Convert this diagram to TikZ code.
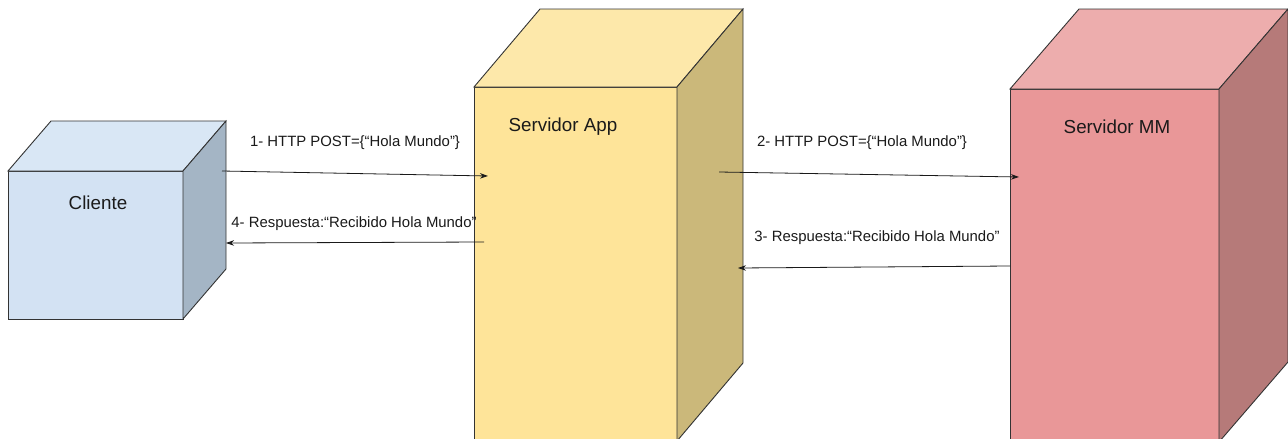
\documentclass[tikz,border=0pt]{standalone}
\usepackage{fontspec}
\setmainfont{Liberation Sans}
\usetikzlibrary{arrows.meta,calc}

\definecolor{cliFront}{RGB}{211,226,243}
\definecolor{cliTop}{RGB}{217,231,245}
\definecolor{cliSide}{RGB}{164,181,197}
\definecolor{appFront}{RGB}{254,228,153}
\definecolor{appTop}{RGB}{253,232,170}
\definecolor{appSide}{RGB}{203,184,122}
\definecolor{mmFront}{RGB}{233,151,152}
\definecolor{mmTop}{RGB}{237,173,173}
\definecolor{mmSide}{RGB}{182,122,121}
\definecolor{edge}{RGB}{51,51,51}
\definecolor{ink}{RGB}{26,26,26}

\tikzset{
  face/.style={draw=edge, line width=0.9pt, line join=miter},
  frontface/.style={face, rectangle, inner sep=0pt, outer sep=0pt, anchor=north west},
  boxtitle/.style={text=ink, font=\fontsize{18.8}{22}\selectfont, inner sep=0pt},
  msglabel/.style={text=ink, font=\fontsize{14.9}{17}\selectfont, inner sep=0pt},
  msg/.style={draw=ink, line width=0.8pt, -{Stealth[length=8pt,width=5.5pt]}},
}

\begin{document}
\begin{tikzpicture}[x=1pt,y=-1pt]
  \useasboundingbox (0,0) rectangle (1288,439);

  % Cliente cube
  \node[frontface, fill=cliFront, minimum width=175pt, minimum height=148pt] (cli) at (8,171) {};
  \draw[face, fill=cliTop] (cli.north west) -- ++(43,-50) -- ++(175,0) -- (cli.north east) -- cycle;
  \draw[face, fill=cliSide] (cli.north east) -- ++(43,-50) -- ++(0,148) -- (cli.south east) -- cycle;
  \node[boxtitle] (cliT) at (98,203) {Cliente};

  % Servidor App cube
  \node[frontface, fill=appFront, minimum width=203pt, minimum height=354pt] (app) at (474,87) {};
  \draw[face, fill=appTop] (app.north west) -- ++(66,-78) -- ++(203,0) -- (app.north east) -- cycle;
  \draw[face, fill=appSide] (app.north east) -- ++(66,-78) -- ++(0,354) -- (app.south east) -- cycle;
  \node[boxtitle] (appT) at (563,127) {Servidor App};

  % Servidor MM cube
  \node[frontface, fill=mmFront, minimum width=209pt, minimum height=353pt] (mm) at (1010,89) {};
  \draw[face, fill=mmTop] (mm.north west) -- ++(69,-80) -- ++(209,0) -- (mm.north east) -- cycle;
  \draw[face, fill=mmSide] (mm.north east) -- ++(69,-80) -- ++(0,353) -- (mm.south east) -- cycle;
  \node[boxtitle] (mmT) at (1117,127) {Servidor MM};

  % message end points
  \coordinate (m1s) at (222,171);
  \coordinate (m1e) at (488,176);
  \coordinate (m4s) at (484,242);
  \coordinate (m4e) at (226,243);
  \coordinate (m2s) at (719,172);
  \coordinate (m2e) at (1019,177);
  \coordinate (m3s) at (1010,266);
  \coordinate (m3e) at (738,268);

  % messages
  \draw[msg] (m1s) -- (m1e);
  \node[msglabel] (l1) at (355,143) {1- HTTP POST=\{“Hola Mundo”\}};
  \draw[msg] (m2s) -- (m2e);
  \node[msglabel] (l2) at (862,143) {2- HTTP POST=\{“Hola Mundo”\}};
  \draw[msg] (m3s) -- (m3e);
  \node[msglabel] (l3) at (877,238) {3- Respuesta:“Recibido Hola Mundo”};
  \draw[msg] (m4s) -- (m4e);
  \node[msglabel] (l4) at (354,224) {4- Respuesta:“Recibido Hola Mundo”};
\end{tikzpicture}
\end{document}
